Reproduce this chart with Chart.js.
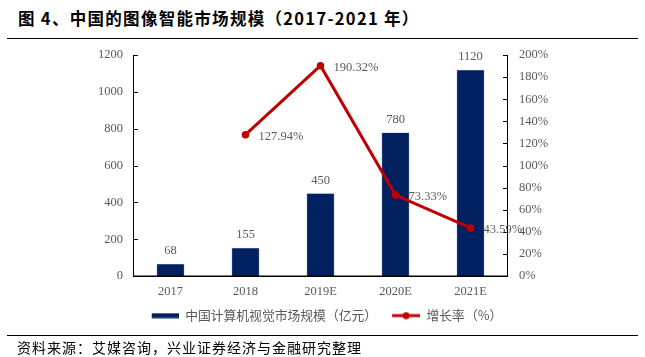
<!DOCTYPE html>
<html><head><meta charset="utf-8">
<script src="https://cdn.jsdelivr.net/npm/chart.js@4/dist/chart.umd.min.js"></script>
<style>
html,body{margin:0;padding:0;background:#fff;}
#wrap{position:relative;width:645px;height:357px;overflow:hidden;}
#title{position:absolute;left:18px;top:6px;font:bold 16.5px "Noto Sans CJK SC","Liberation Serif",serif;color:#000;white-space:nowrap;letter-spacing:1.3px;}
.rule{position:absolute;left:7px;width:631px;height:0;border-top:1.5px solid #000;}
#src{position:absolute;left:17px;top:337px;font:14px "Noto Sans CJK SC",serif;color:#000;white-space:nowrap;letter-spacing:1px;}
canvas{position:absolute;left:0;top:0;}
</style></head>
<body><div id="wrap">
<div id="title">图 4、中国的图像智能市场规模（2017-2021 年）</div>
<div class="rule" style="top:38px"></div>
<canvas id="c" width="645" height="357"></canvas>
<div class="rule" style="top:335px"></div>
<div id="src">资料来源：艾媒咨询，兴业证券经济与金融研究整理</div>
</div>
<script>
const categories = ['2017','2018','2019E','2020E','2021E'];
const marketSize = [68,155,450,780,1120];
const growthRate = [null,127.94,190.32,73.33,43.59];
const growthLabels = [null,'127.94%','190.32%','73.33%','43.59%'];
const leftTicks = [0,200,400,600,800,1000,1200];
const rightTicks = [0,20,40,60,80,100,120,140,160,180,200];
const barName = '中国计算机视觉市场规模（亿元）';
const lineName = '增长率（%）';

const NAVY = '#002060', RED = '#C00000', GRAY = '#595959';
const serif = '"Liberation Serif","Times New Roman",serif';
const SW = 33; // legend swatch slot (includes leading gap)

function mkBarSwatch(){const c=document.createElement('canvas');c.width=SW;c.height=6;const g=c.getContext('2d');g.fillStyle=NAVY;g.fillRect(SW-27,0.5,27,5);return c;}
function mkLineSwatch(){const c=document.createElement('canvas');c.width=SW;c.height=8;const g=c.getContext('2d');g.strokeStyle=RED;g.lineWidth=3;g.beginPath();g.moveTo(SW-28,4);g.lineTo(SW,4);g.stroke();g.fillStyle=RED;g.beginPath();g.arc(SW-14,4,3.5,0,Math.PI*2);g.fill();return c;}

const tickPlugin = {
  id:'inTicks',
  afterDraw(chart){
    const ctx=chart.ctx, a=chart.chartArea;
    const y=chart.scales.y, y1=chart.scales.y1;
    ctx.save();ctx.strokeStyle='#000';ctx.lineWidth=1;
    ctx.beginPath();
    ctx.moveTo(a.left+0.5,a.top);ctx.lineTo(a.left+0.5,a.bottom);
    ctx.moveTo(a.right-0.5,a.top);ctx.lineTo(a.right-0.5,a.bottom);
    leftTicks.forEach(v=>{const p=Math.round(y.getPixelForValue(v))+0.5;ctx.moveTo(a.left,p);ctx.lineTo(a.left+5,p);});
    rightTicks.forEach(v=>{const p=Math.round(y1.getPixelForValue(v))+0.5;ctx.moveTo(a.right,p);ctx.lineTo(a.right-5,p);});
    ctx.stroke();
    ctx.lineWidth=1.5;ctx.beginPath();ctx.moveTo(a.left,a.bottom);ctx.lineTo(a.right,a.bottom);ctx.stroke();
    ctx.font='12.5px '+serif;ctx.fillStyle=GRAY;ctx.textAlign='center';ctx.textBaseline='middle';
    chart.getDatasetMeta(1).data.forEach((el,i)=>{ctx.fillText(String(marketSize[i]),el.x,el.y-13);});
    ctx.textAlign='left';
    chart.getDatasetMeta(0).data.forEach((el,i)=>{if(growthLabels[i]==null)return;ctx.fillText(growthLabels[i],el.x+13,el.y+2);});
    ctx.restore();
  }
};

new Chart(document.getElementById('c'),{
  data:{labels:categories,datasets:[
    {type:'line',label:lineName,data:growthRate,yAxisID:'y1',borderColor:RED,backgroundColor:RED,borderWidth:3,pointRadius:3.8,pointHoverRadius:3.8,pointBackgroundColor:RED,pointBorderWidth:0,tension:0,order:0,spanGaps:false},
    {type:'bar',label:barName,data:marketSize,yAxisID:'y',backgroundColor:NAVY,borderColor:'#8EA0C4',borderWidth:0.6,barPercentage:0.373,categoryPercentage:1,order:1}
  ]},
  options:{
    responsive:false,animation:false,devicePixelRatio:1,
    layout:{padding:{top:55,bottom:25,left:18,right:15}},
    plugins:{
      tooltip:{enabled:false},
      legend:{position:'bottom',reverse:true,
        labels:{usePointStyle:true,pointStyleWidth:SW,padding:10,color:GRAY,font:{family:'"Noto Sans CJK SC",sans-serif',size:12.8},
          generateLabels(chart){
            return [
              {text:lineName,pointStyle:mkLineSwatch(),datasetIndex:0,fontColor:GRAY,lineWidth:0,strokeStyle:'rgba(0,0,0,0)',fillStyle:RED,hidden:false},
              {text:barName,pointStyle:mkBarSwatch(),datasetIndex:1,fontColor:GRAY,lineWidth:0,strokeStyle:'rgba(0,0,0,0)',fillStyle:NAVY,hidden:false}
            ];
          }}}
    },
    scales:{
      x:{offset:true,grid:{display:false,drawTicks:false},border:{display:false},
        ticks:{color:GRAY,font:{family:serif,size:12.5},padding:8},
        afterFit(s){s.height=23;}},
      y:{position:'left',min:0,max:1200,grid:{display:false,drawTicks:false},border:{display:false},
        afterBuildTicks(s){s.ticks=leftTicks.map(v=>({value:v}));},
        ticks:{color:GRAY,font:{family:serif,size:12.5},padding:10,callback:v=>String(v)},
        afterFit(s){s.width=115;}},
      y1:{position:'right',min:0,max:200,grid:{display:false,drawTicks:false},border:{display:false},
        afterBuildTicks(s){s.ticks=rightTicks.map(v=>({value:v}));},
        ticks:{color:GRAY,font:{family:serif,size:12.5},padding:11,callback:v=>v+'%'},
        afterFit(s){s.width=122;}}
    }
  },
  plugins:[tickPlugin]
});
</script></body></html>
